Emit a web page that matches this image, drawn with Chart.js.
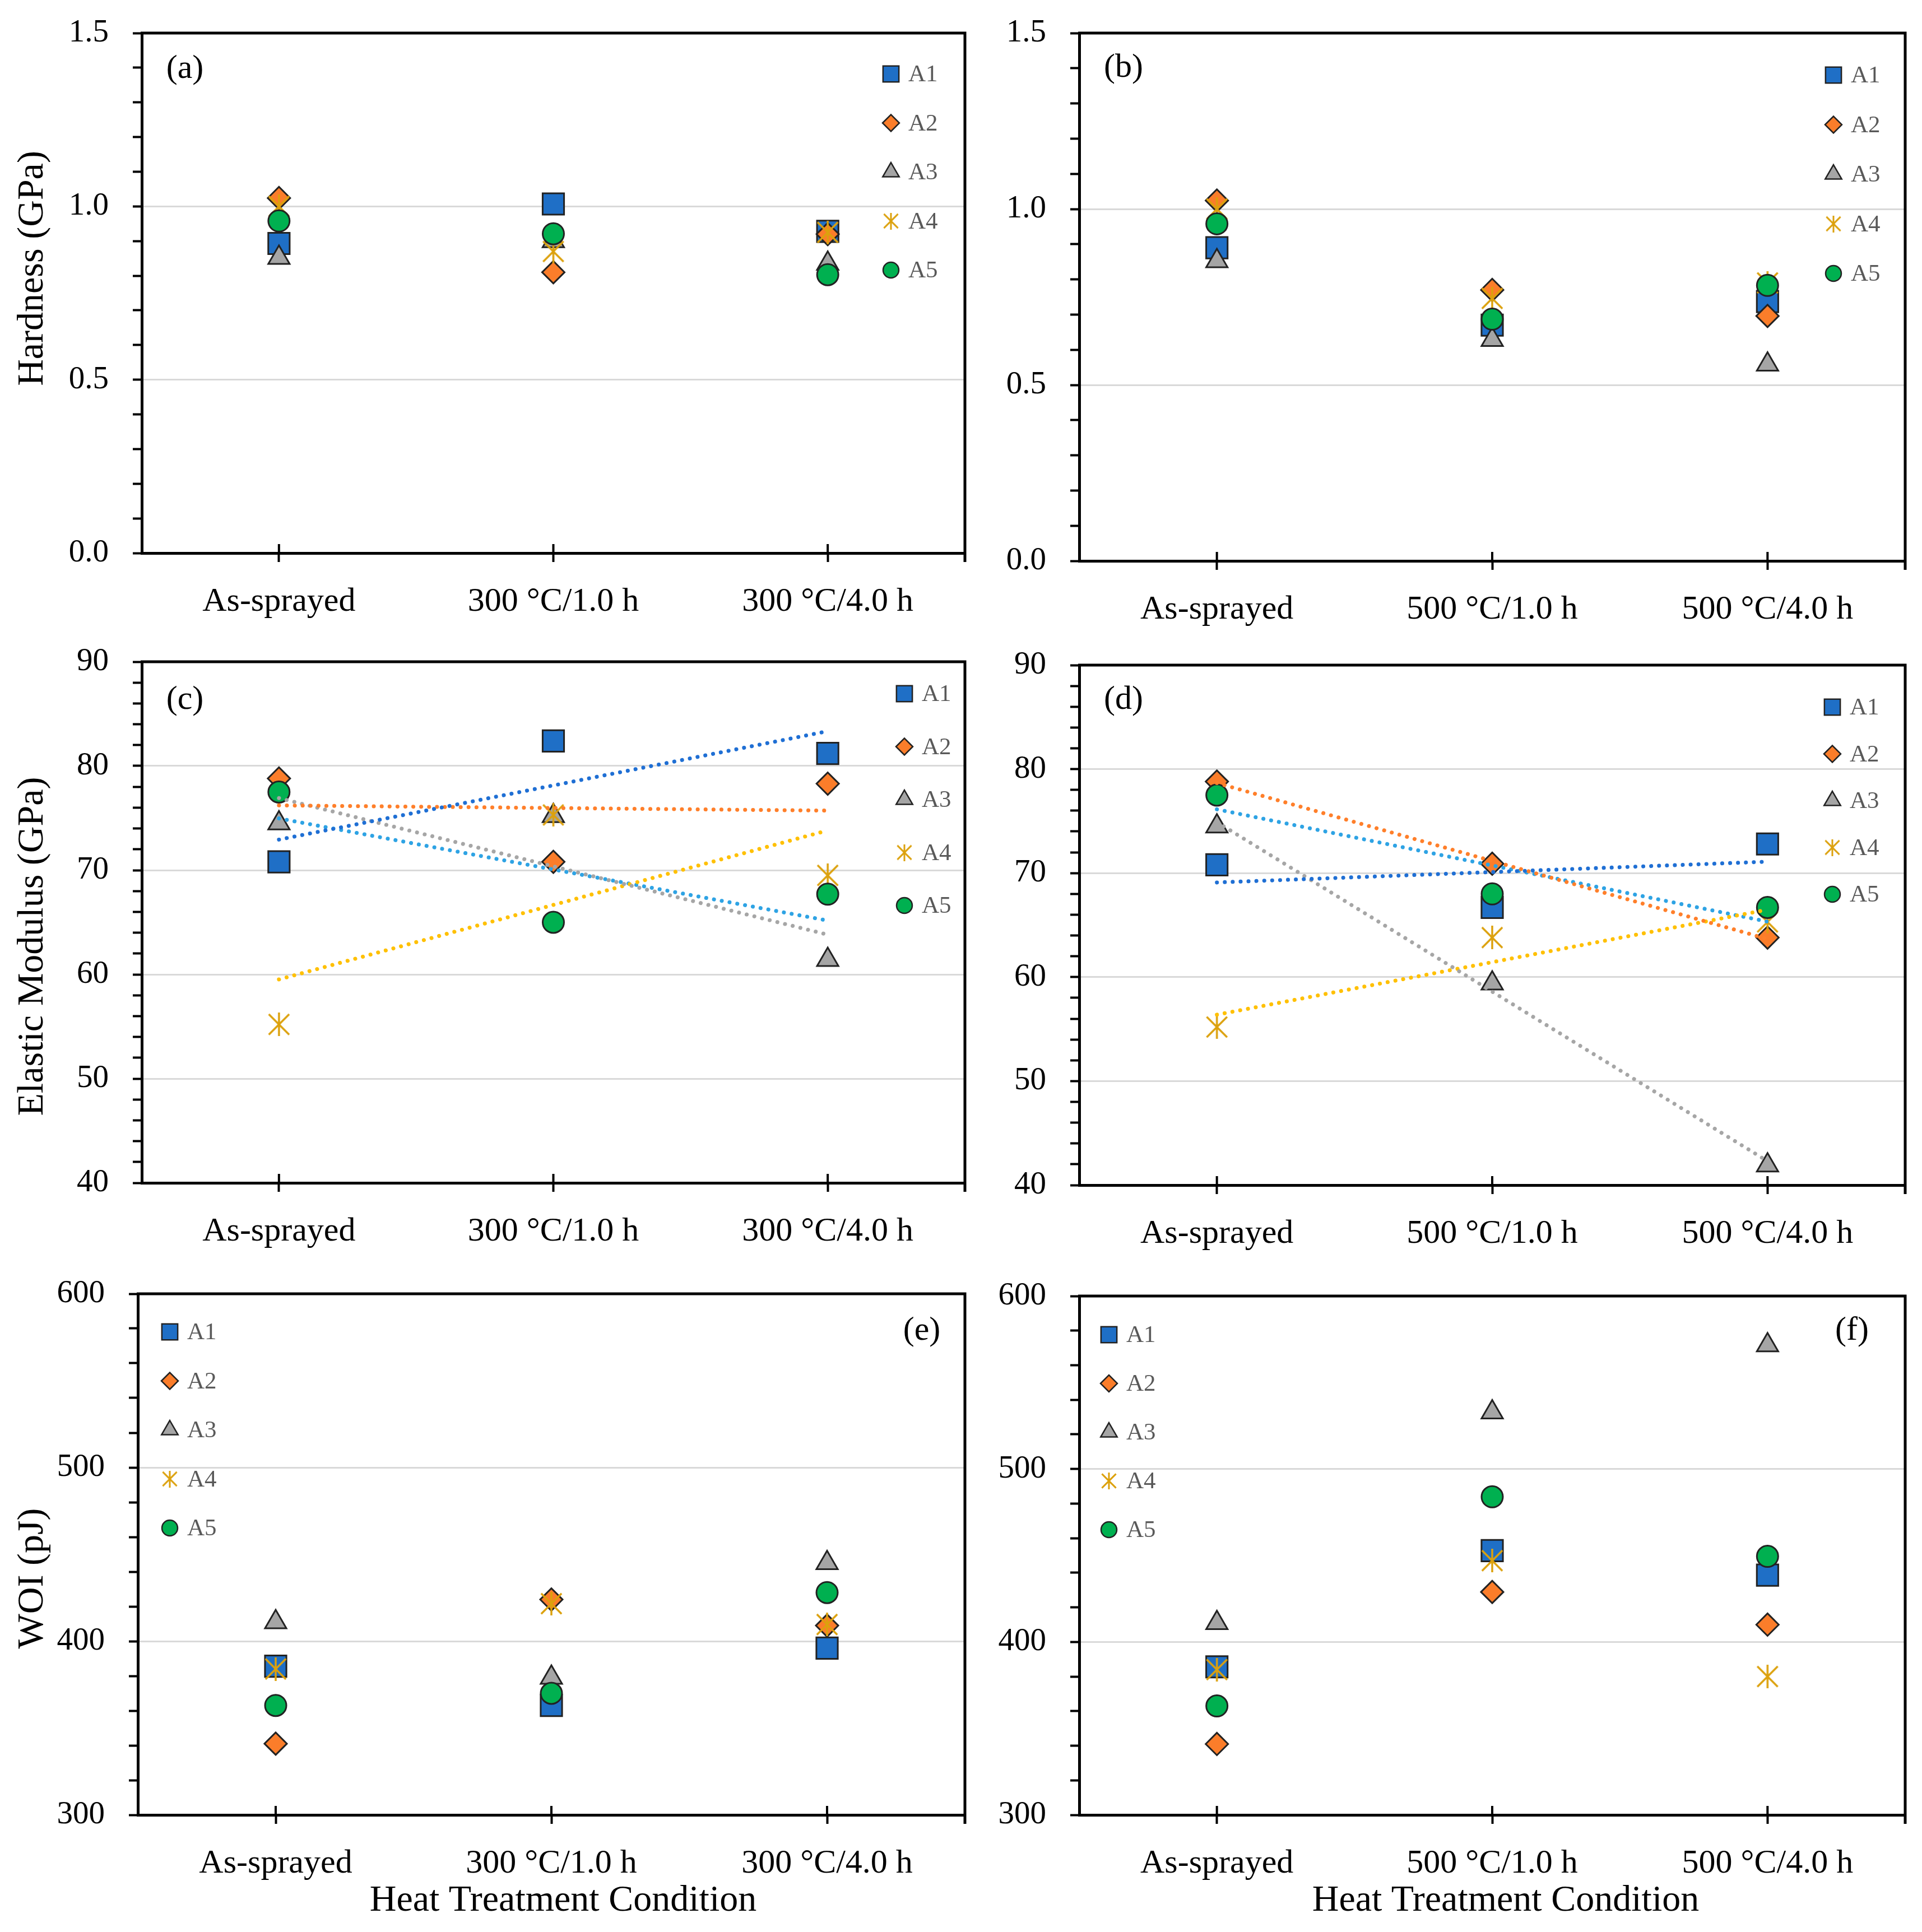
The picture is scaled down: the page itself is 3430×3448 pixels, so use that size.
<!DOCTYPE html>
<html>
<head>
<meta charset="utf-8">
<script src="https://cdn.jsdelivr.net/npm/chart.js@4.4.1/dist/chart.umd.min.js"></script>
<style>
  html, body { margin: 0; padding: 0; background: #fff; }
  body { width: 3430px; height: 3448px; position: relative; overflow: hidden; }
  canvas { position: absolute; }
</style>
</head>
<body>
<canvas id="pa"></canvas>
<canvas id="pb"></canvas>
<canvas id="pc"></canvas>
<canvas id="pd"></canvas>
<canvas id="pe"></canvas>
<canvas id="pf"></canvas>
<script>
// ---- data ----
const seriesNames = ['A1', 'A2', 'A3', 'A4', 'A5'];
const cats300 = ['As-sprayed', '300 °C/1.0 h', '300 °C/4.0 h'];
const cats500 = ['As-sprayed', '500 °C/1.0 h', '500 °C/4.0 h'];

const hardnessTicks = [0, 0.5, 1.0, 1.5];
const modulusTicks = [40, 50, 60, 70, 80, 90];
const woiTicks = [300, 400, 500, 600];

// one row per series A1..A5, one column per condition
const hardness300 = [
  [0.893, 1.007, 0.928],
  [1.024, 0.810, 0.920],
  [0.852, 0.900, 0.835],
  [1.000, 0.870, 0.925],
  [0.958, 0.921, 0.803]
];
const hardness500 = [
  [0.890, 0.670, 0.737],
  [1.024, 0.770, 0.696],
  [0.852, 0.628, 0.558],
  [1.000, 0.746, 0.790],
  [0.958, 0.687, 0.783]
];
const modulus300 = [
  [70.8, 82.4, 81.2],
  [78.8, 70.8, 78.3],
  [74.5, 75.2, 61.4],
  [55.2, 75.3, 69.5],
  [77.5, 65.0, 67.7]
];
const modulus500 = [
  [70.8, 66.7, 72.8],
  [78.8, 70.9, 63.8],
  [74.5, 59.4, 41.9],
  [55.2, 63.8, 65.3],
  [77.5, 68.0, 66.7]
];
const woi300 = [
  [385.6, 363, 396],
  [341, 424, 409],
  [411, 379, 445],
  [384, 421.6, 409.6],
  [363, 370, 428]
];
const woi500 = [
  [385.6, 452.8, 438.6],
  [341, 428.9, 410],
  [411, 532.8, 571.6],
  [384, 447, 380],
  [363, 483.9, 449.5]
];

// ---- styles ----
Chart.defaults.font.family = '"Liberation Serif", "Times New Roman", serif';
Chart.defaults.color = '#000';

function asterisk(size, lw) {
  const c = document.createElement('canvas');
  c.width = c.height = size;
  const g = c.getContext('2d');
  g.strokeStyle = '#dca10d';
  g.lineWidth = lw;
  const p = lw * 0.8;
  g.beginPath();
  g.moveTo(p, p); g.lineTo(size - p, size - p);
  g.moveTo(size - p, p); g.lineTo(p, size - p);
  g.moveTo(size / 2, 0); g.lineTo(size / 2, size);
  g.stroke();
  return c;
}

const markerStyles = [
  { fill: '#1f6fc6', style: 'rect', r: 27, lr: 20 },
  { fill: '#fb7d2a', style: 'rectRot', r: 20, lr: 15 },
  { fill: '#a5a5a5', style: 'triangle', r: 22, lr: 17 },
  { fill: '#dca10d', style: asterisk(42, 3.5), r: 21, lr: 15, legendStyle: asterisk(30, 3) },
  { fill: '#00b050', style: 'circle', r: 19, lr: 14 }
];
const trendColors = ['#1f6fd4', '#ff7f2a', '#a6a6a6', '#ffc000', '#2ea3e4'];

function trendEnds(vals) {
  const n = vals.length;
  const mx = (n - 1) / 2;
  const my = vals.reduce((s, v) => s + v, 0) / n;
  let sxy = 0, sxx = 0;
  vals.forEach((v, i) => { sxy += (i - mx) * (v - my); sxx += (i - mx) * (i - mx); });
  const b = sxy / sxx, a0 = my - b * mx;
  return [{ x: 0, y: a0 }, { x: n - 1, y: a0 + b * (n - 1) }];
}

// frame, crossing x ticks, in-plot legend, panel letter, axis titles
const panelDeco = {
  id: 'panelDeco',
  afterDraw(chart, args, o) {
    const { ctx, chartArea: a, scales } = chart;
    ctx.save();
    ctx.strokeStyle = '#000';
    ctx.lineWidth = 5;
    ctx.beginPath();
    ctx.moveTo(a.left - 2, a.top);
    ctx.lineTo(a.right, a.top);
    ctx.lineTo(a.right, a.bottom + 16);
    ctx.stroke();

    ctx.lineWidth = 4;
    ctx.beginPath();
    scales.x.ticks.forEach(t => {
      const px = scales.x.getPixelForValue(t.value);
      ctx.moveTo(px, a.bottom);
      ctx.lineTo(px, a.bottom - 16);
    });
    ctx.stroke();

    // legend
    const lg = o.legend;
    chart.data.datasets.forEach((ds, i) => {
      if (ds.isTrend) return;
      const m = markerStyles[i];
      const x = a.left + lg[0], y = a.top + lg[1] + i * lg[2];
      ctx.fillStyle = m.fill;
      ctx.strokeStyle = '#222';
      ctx.lineWidth = 2.5;
      Chart.helpers.drawPoint(ctx, { pointStyle: m.legendStyle || m.style, radius: m.lr, rotation: 0, borderWidth: 2.5 }, x, y);
      ctx.fillStyle = '#595959';
      ctx.font = '43px "Liberation Serif", serif';
      ctx.textAlign = 'left';
      ctx.textBaseline = 'middle';
      ctx.fillText(ds.label, x + 31, y + 2);
    });

    // panel letter
    ctx.fillStyle = '#000';
    ctx.font = '60px "Liberation Serif", serif';
    ctx.textAlign = 'center';
    ctx.textBaseline = 'middle';
    ctx.fillText(o.letter, o.letterPos[0], o.letterPos[1]);

    if (o.xTitle) {
      ctx.font = '66px "Liberation Serif", serif';
      ctx.fillText(o.xTitle, o.xTitlePos[0], o.xTitlePos[1]);
    }
    if (o.yTitle) {
      ctx.translate(o.yTitlePos[0], o.yTitlePos[1]);
      ctx.rotate(-Math.PI / 2);
      ctx.font = '66px "Liberation Serif", serif';
      ctx.fillText(o.yTitle, 0, 0);
    }
    ctx.restore();
  }
};

const panels = [
  { id: 'pa', box: [0, 0, 1780, 1130], plot: [253, 59, 1722, 987], cats: cats300, values: hardness300,
    ticks: hardnessTicks, minor: 0.1, digits: 1, yTitle: 'Hardness (GPa)', yTitlePos: [59, 479],
    letter: '(a)', letterPos: [330, 123], legend: [1337, 73, 87.5] },
  { id: 'pb', box: [1780, 0, 1650, 1130], plot: [1926, 59, 3404, 1001], cats: cats500, values: hardness500,
    ticks: hardnessTicks, minor: 0.1, digits: 1,
    letter: '(b)', letterPos: [225, 121], legend: [1346, 75, 88.5] },
  { id: 'pc', box: [0, 1130, 1780, 1120], plot: [253, 1181, 1722, 2111], cats: cats300, values: modulus300,
    ticks: modulusTicks, minor: 2, digits: 0, yTitle: 'Elastic Modulus (GPa)', yTitlePos: [59, 559],
    letter: '(c)', letterPos: [330, 119], legend: [1361, 57, 94.5], trend: true },
  { id: 'pd', box: [1780, 1130, 1650, 1120], plot: [1926, 1187, 3404, 2115], cats: cats500, values: modulus500,
    ticks: modulusTicks, minor: 2, digits: 0,
    letter: '(d)', letterPos: [225, 119], legend: [1344, 75, 83.5], trend: true },
  { id: 'pe', box: [0, 2250, 1780, 1198], plot: [246, 2309, 1722, 3239], cats: cats300, values: woi300,
    ticks: woiTicks, minor: 20, digits: 0, yTitle: 'WOI (pJ)', yTitlePos: [59, 567],
    letter: '(e)', letterPos: [1645, 125], legend: [57, 68, 87.5],
    xTitle: 'Heat Treatment Condition', xTitlePos: [1005, 1143] },
  { id: 'pf', box: [1780, 2250, 1650, 1198], plot: [1926, 2313, 3404, 3239], cats: cats500, values: woi500,
    ticks: woiTicks, minor: 20, digits: 0,
    letter: '(f)', letterPos: [1525, 125], legend: [53, 69, 87],
    xTitle: 'Heat Treatment Condition', xTitlePos: [907, 1143] }
];

panels.forEach(p => {
  const cv = document.getElementById(p.id);
  const [bx, by, bw, bh] = p.box;
  cv.width = bw; cv.height = bh;
  cv.style.left = bx + 'px'; cv.style.top = by + 'px';
  cv.style.width = bw + 'px'; cv.style.height = bh + 'px';

  const yW = p.plot[0] - bx;
  const padTop = p.plot[1] - by;
  const padRight = bx + bw - p.plot[2];
  const xH = by + bh - p.plot[3];

  const datasets = p.values.map((vals, i) => {
    const m = markerStyles[i];
    return {
      label: seriesNames[i],
      data: vals.map((v, j) => ({ x: j, y: v })),
      pointStyle: m.style,
      pointRadius: m.r,
      backgroundColor: m.fill,
      borderColor: '#222',
      borderWidth: 3,
      order: 5 - i
    };
  });
  if (p.trend) {
    p.values.forEach((vals, i) => {
      datasets.push({
        type: 'line',
        isTrend: true,
        label: seriesNames[i] + ' trend',
        data: trendEnds(vals),
        borderColor: trendColors[i],
        borderWidth: 7,
        borderDash: [0.1, 14],
        borderCapStyle: 'round',
        pointRadius: 0,
        fill: false,
        order: -1
      });
    });
  }

  const lo = p.ticks[0], hi = p.ticks[p.ticks.length - 1];

  new Chart(cv, {
    type: 'scatter',
    data: { datasets },
    options: {
      responsive: false,
      animation: false,
      devicePixelRatio: 1,
      layout: { padding: { top: padTop, right: padRight, left: 0, bottom: 0 } },
      plugins: {
        legend: { display: false },
        tooltip: { enabled: false },
        panelDeco: {
          legend: p.legend, letter: p.letter, letterPos: p.letterPos,
          yTitle: p.yTitle, yTitlePos: p.yTitlePos, xTitle: p.xTitle, xTitlePos: p.xTitlePos
        }
      },
      scales: {
        x: {
          type: 'linear', min: -0.5, max: 2.5,
          afterBuildTicks: s => { s.ticks = p.cats.map((_, i) => ({ value: i })); },
          afterFit: s => { s.height = xH; s.paddingLeft = 0; s.paddingRight = 0; },
          ticks: { callback: v => p.cats[v], font: { size: 60 }, color: '#000', padding: 35, maxRotation: 0, minRotation: 0, autoSkip: false },
          grid: { drawOnChartArea: false, tickLength: 16, tickColor: '#000', tickWidth: 4, color: '#000' },
          border: { display: true, color: '#000', width: 5 }
        },
        y: {
          min: lo, max: hi,
          afterBuildTicks: s => {
            const n = Math.round((hi - lo) / p.minor);
            const out = [];
            for (let i = 0; i <= n; i++) {
              const v = +(lo + i * p.minor).toFixed(6);
              out.push({ value: v, major: p.ticks.some(t => Math.abs(t - v) < p.minor / 10) });
            }
            s.ticks = out;
          },
          afterFit: s => { s.width = yW; s.paddingTop = 0; s.paddingBottom = 0; },
          ticks: {
            callback: (v, i, ts) => ts[i].major ? v.toFixed(p.digits) : '',
            font: { size: 57 }, color: '#000', padding: 43, autoSkip: false
          },
          grid: {
            color: c => (c.tick && c.tick.major) ? '#d9d9d9' : 'rgba(0,0,0,0)',
            lineWidth: 3, tickLength: 16, tickColor: '#000', tickWidth: 4
          },
          border: { display: true, color: '#000', width: 5 }
        }
      }
    },
    plugins: [panelDeco]
  });
});
</script>
</body>
</html>
